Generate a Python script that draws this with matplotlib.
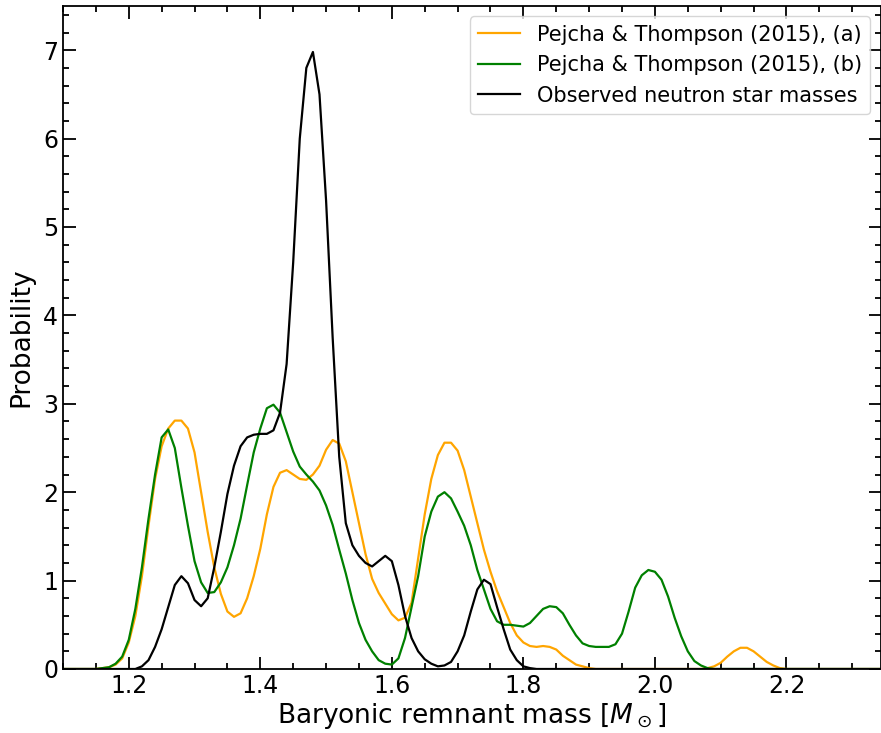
import numpy as np
import matplotlib
matplotlib.use("Agg")
import matplotlib.pyplot as plt
from matplotlib.ticker import MultipleLocator

# x grid values (baryonic remnant mass), 1.10 ... 2.35 step 0.01
mass = [round(1.10 + 0.01 * i, 2) for i in range(126)]

# Observed neutron star masses
observed = ([0.0] * 11 +  # 1.10-1.20
            [0.0, 0.03, 0.10, 0.25, 0.45, 0.70, 0.95, 1.05, 0.97,  # 1.21-1.29
             0.78, 0.71, 0.80, 1.15, 1.55, 1.98, 2.30, 2.52, 2.62, 2.65,  # 1.30-1.39
             2.66, 2.66, 2.70, 2.90, 3.45, 4.60, 6.00, 6.80, 6.98, 6.50,  # 1.40-1.49
             5.30, 3.75, 2.40, 1.65, 1.40, 1.28, 1.20, 1.16, 1.22, 1.28,  # 1.50-1.59
             1.22, 0.95, 0.60, 0.35, 0.20, 0.11, 0.06, 0.03, 0.04, 0.08,  # 1.60-1.69
             0.20, 0.38, 0.65, 0.90, 1.01, 0.96, 0.70, 0.45, 0.22, 0.10,  # 1.70-1.79
             0.03, 0.01] +  # 1.80-1.81
            [0.0] * 54)  # 1.82-2.35

# Pejcha & Thompson (2015), (a)
pt_a = ([0.0] * 6 +  # 1.10-1.15
        [0.01, 0.02, 0.05, 0.12,  # 1.16-1.19
         0.30, 0.60, 1.05, 1.62, 2.15, 2.52, 2.72, 2.81, 2.81, 2.72,  # 1.20-1.29
         2.45, 2.00, 1.55, 1.15, 0.85, 0.65, 0.59, 0.63, 0.80, 1.05,  # 1.30-1.39
         1.36, 1.75, 2.06, 2.22, 2.25, 2.20, 2.15, 2.14, 2.20, 2.30,  # 1.40-1.49
         2.48, 2.59, 2.55, 2.35, 2.00, 1.65, 1.30, 1.02, 0.86, 0.74,  # 1.50-1.59
         0.62, 0.55, 0.58, 0.75, 1.25, 1.75, 2.15, 2.42, 2.56, 2.56,  # 1.60-1.69
         2.47, 2.25, 1.95, 1.65, 1.35, 1.10, 0.88, 0.70, 0.52, 0.38,  # 1.70-1.79
         0.30, 0.26, 0.25, 0.26, 0.25, 0.22, 0.15, 0.10, 0.05, 0.03,  # 1.80-1.89
         0.01] +  # 1.90
        [0.0] * 17 +  # 1.91-2.07
        [0.01, 0.03,  # 2.08-2.09
         0.07, 0.14, 0.20, 0.24, 0.24, 0.20, 0.14, 0.08, 0.04, 0.01] +  # 2.10-2.19
        [0.0] * 16)  # 2.20-2.35

# Pejcha & Thompson (2015), (b)
pt_b = ([0.0] * 6 +  # 1.10-1.15
        [0.01, 0.02, 0.06, 0.14,  # 1.16-1.19
         0.33, 0.68, 1.15, 1.70, 2.20, 2.62, 2.71, 2.50, 2.05, 1.62,  # 1.20-1.29
         1.22, 0.98, 0.86, 0.87, 0.98, 1.15, 1.40, 1.70, 2.08, 2.45,  # 1.30-1.39
         2.72, 2.95, 2.99, 2.90, 2.68, 2.46, 2.29, 2.20, 2.12, 2.02,  # 1.40-1.49
         1.85, 1.63, 1.35, 1.08, 0.78, 0.52, 0.33, 0.20, 0.10, 0.06,  # 1.50-1.59
         0.05, 0.12, 0.35, 0.70, 1.05, 1.50, 1.78, 1.95, 2.00, 1.93,  # 1.60-1.69
         1.78, 1.62, 1.40, 1.12, 0.90, 0.68, 0.54, 0.50, 0.50, 0.49,  # 1.70-1.79
         0.48, 0.52, 0.60, 0.68, 0.71, 0.70, 0.63, 0.50, 0.38, 0.29,  # 1.80-1.89
         0.26, 0.25, 0.25, 0.25, 0.28, 0.40, 0.65, 0.92, 1.06, 1.12,  # 1.90-1.99
         1.10, 1.01, 0.82, 0.58, 0.37, 0.20, 0.09, 0.04, 0.01] +  # 2.00-2.08
        [0.0] * 27)  # 2.09-2.35

labels = ["Pejcha & Thompson (2015), (a)",
          "Pejcha & Thompson (2015), (b)",
          "Observed neutron star masses"]
colors = ["orange", "green", "black"]

fig = plt.figure(figsize=(8.81, 7.33), dpi=100)
ax = fig.add_axes([63 / 881, 1 - 669 / 733, (880.5 - 63) / 881, (669 - 6) / 733])

for series, lab, col in zip([pt_a, pt_b, observed], labels, colors):
    ax.plot(mass, series, color=col, lw=1.6, label=lab)

ax.set_xlim(1.1, 2.343)
ax.set_ylim(0, 7.5)
ax.xaxis.set_major_locator(MultipleLocator(0.2))
ax.xaxis.set_minor_locator(MultipleLocator(0.05))
ax.yaxis.set_major_locator(MultipleLocator(1))
ax.yaxis.set_minor_locator(MultipleLocator(0.2))
ax.tick_params(which="both", direction="in", top=True, right=True, width=1.3)
ax.tick_params(which="major", length=9, labelsize=17)
ax.tick_params(which="minor", length=4.5)
for s in ax.spines.values():
    s.set_linewidth(1.3)

ax.set_xlabel(r"Baryonic remnant mass [$M_\odot$]", fontsize=19, labelpad=2)
ax.set_ylabel("Probability", fontsize=19, labelpad=6)
ax.legend(loc="upper right", fontsize=15, handlelength=2.0)

fig.savefig("out.png", dpi=100)
